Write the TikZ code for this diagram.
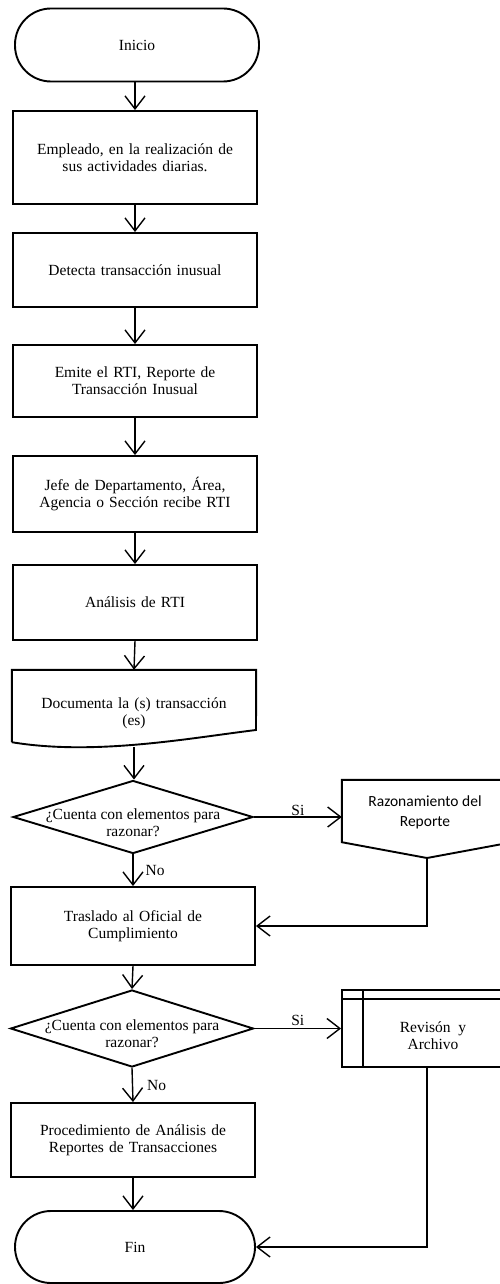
\documentclass[tikz,border=0pt]{standalone}
\usepackage{fontspec}
\setmainfont{Liberation Serif}
\newfontfamily\sansfam{Carlito}
\usetikzlibrary{arrows.meta,shapes.geometric,calc}

\begin{document}
\begin{tikzpicture}[x=1pt,y=-1pt,
  every node/.style={font=\fontsize{15.5}{17}\selectfont, align=center},
  outline/.style={draw, line width=1.9pt},
  stepbox/.style={outline, rectangle, minimum width=244pt, inner sep=0pt, text width=230pt},
  term/.style={outline, rectangle, rounded corners=36pt, minimum width=244pt, minimum height=73pt, inner sep=0pt},
  decision/.style={outline, diamond, inner sep=0pt},
  flow/.style={draw, line width=1.4pt, -{Straight Barb[length=13pt,width=20pt]}},
  lbl/.style={font=\fontsize{15.5}{17}\selectfont, inner sep=2pt}]

  % page frame
  \fill[white] (0,0) rectangle (500,1284);
  \path[use as bounding box] (0,0) rectangle (500,1284);

  % main column
  \node[term] (inicio) at (137,45) {Inicio};
  \node[stepbox, minimum height=93pt] (b1) at (135,157.5)
    {Empleado, en la realización de\\ sus actividades diarias.};
  \node[stepbox, minimum height=74pt] (b2) at (135,270) {Detecta transacción inusual};
  \node[stepbox, minimum height=72pt] (b3) at (135,381)
    {Emite el RTI, Reporte de\\ Transacción Inusual};
  \node[stepbox, minimum height=76pt] (b4) at (135,494)
    {Jefe de Departamento, Área,\\ Agencia o Sección recibe RTI};
  \node[stepbox, minimum height=75pt] (b5) at (135,602.5) {Análisis de RTI};

  % document shape
  \node[rectangle, minimum width=244pt, minimum height=72pt, inner sep=0pt] (doc) at (134,706) {};
  \draw[outline] (doc.south west) -- (doc.north west) -- (doc.north east) -- (256,730)
    .. controls (190,738) and (95,756) .. (doc.south west);
  \node[text width=230pt] (doctext) at (134,713) {Documenta la (s) transacción\\ (es)};

  % first decision
  \node[decision, minimum width=240pt, minimum height=73pt] (d1) at (133,817) {};
  \node (d1text) at (133,823) {¿Cuenta con elementos para\\ razonar?};

  % off-page style report box
  \node[rectangle, minimum width=170pt, minimum height=62pt, inner sep=0pt] (raz) at (427,811) {};
  \draw[outline] (raz.south west) -- (raz.north west) -- (raz.north east) -- (raz.south east)
    -- (427,858) coordinate (razpt) -- cycle;
  \node[font=\sansfam\fontsize{15.5}{20}\selectfont] (raztext) at (425,812) {Razonamiento del\\ Reporte};

  \node[stepbox, minimum height=78pt] (tras) at (133,926)
    {Traslado al Oficial de\\ Cumplimiento};

  % second decision
  \node[decision, minimum width=243pt, minimum height=77pt] (d2) at (132,1028.5) {};
  \node (d2text) at (132,1034) {¿Cuenta con elementos para\\ razonar?};

  % predefined process box
  \node[outline, rectangle, minimum width=170pt, minimum height=77pt, inner sep=0pt] (rev) at (427,1028.5) {};
  \draw[outline] (363,990) -- (363,1067);
  \draw[outline] (342,999) -- (512,999);
  \node (revtext) at (433,1036) {Revisón~ y\\ Archivo};

  \node[stepbox, minimum height=74pt] (proc) at (133,1140)
    {Procedimiento de Análisis de\\ Reportes de Transacciones};
  \node[term, minimum width=240pt, minimum height=72pt] (fin) at (135,1247) {Fin};

  % connectors
  \draw[flow] (inicio.south -| b1.north) -- (b1.north);
  \draw[flow] (b1) -- (b2);
  \draw[flow] (b2) -- (b3);
  \draw[flow] (b3) -- (b4);
  \draw[flow] (b4) -- (b5);
  \draw[flow] (b5.south) -- (doc.north);
  \draw[flow] (134,747) -- (d1.north -| 134,0);
  \draw[flow] (d1.east) -- node[lbl, above, yshift=-1pt] {Si} (d1.east -| raz.west);
  \draw[flow] (d1.south) -- node[lbl, right, xshift=10pt] {No} (tras.north);
  \draw[flow] (razpt) |- (tras.east);
  \draw[flow] (tras.south) -- (d2.north);
  \draw[flow] (d2.east) -- node[lbl, above] {Si} (d2.east -| rev.west);
  \draw[flow] (d2.south) -- node[lbl, right, xshift=12pt] {No} (proc.north);
  \draw[flow] (proc.south) -- (fin.north -| proc.south);
  \draw[flow] (rev.south) |- (fin.east);
\end{tikzpicture}
\end{document}
